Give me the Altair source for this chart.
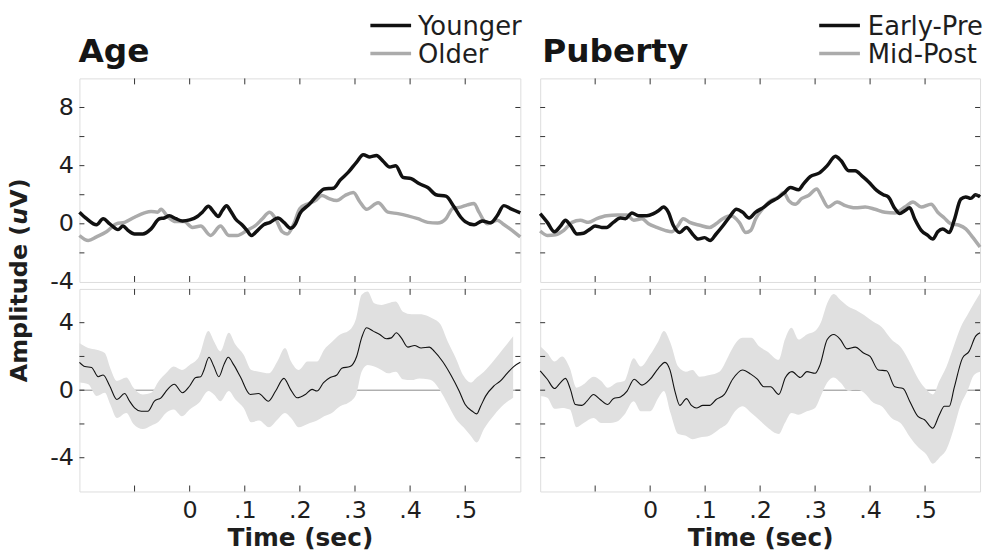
import altair as alt
import pandas as pd

# ---------------- axis values ----------------
x_tick_values = [-0.1, 0.0, 0.1, 0.2, 0.3, 0.4, 0.5]
x_label_values = [0.0, 0.1, 0.2, 0.3, 0.4, 0.5]
top_y_ticks = [-2, 0, 2, 4, 6, 8]
top_y_labels = [-4, 0, 4, 8]
bot_y_ticks = [-4, -2, 0, 2, 4]
bot_y_labels = [-4, 0, 4]
zero_line = [0]

panel_titles = ["Age", "Puberty"]
age_groups = ["Younger", "Older"]
puberty_groups = ["Early-Pre", "Mid-Post"]
x_title = "Time (sec)"
y_title_parts = ["Amplitude (", "u", "V)"]

# ---------------- Age: group ERPs (time in ms, amplitude in uV) ----------------
age_younger_t = [-200, -187, -169, -157, -145, -130, -121, -112, -100, -85,
                 -70, -55, -46, -37, -25, -13, 0, 14, 23, 34,
                 43, 52, 59, 67, 74, 83, 95, 104, 112, 122,
                 134, 146, 160, 171, 183, 192, 200, 216, 231, 244,
                 261, 273, 288, 303, 315, 327, 339, 351, 363, 374,
                 387, 402, 417, 432, 447, 465, 480, 492, 500, 516,
                 531, 546, 558, 570, 582, 600]
age_younger_v = [0.8, 0.35, -0.07, 0.35, 0, -0.4, -0.15, -0.45, -0.7, -0.7,
                 -0.35, 0.35, 0.4, 0.55, 0.35, 0.2, 0.27, 0.5, 0.8, 1.2,
                 0.85, 0.5, 0.9, 1.25, 0.9, 0.35, -0.07, -0.45, -0.8, -0.5,
                 -0.07, 0.1, 0.4, 0.1, -0.3, 0, 0.7, 1.3, 1.95, 2.4,
                 2.45, 3.0, 3.55, 4.25, 4.75, 4.6, 4.7, 4.3, 3.9, 4.0,
                 3.2, 3.1, 2.75, 2.5, 2.0, 1.9, 1.15, 0.45, 0.15, -0.07,
                 0.2, 0.07, 0.55, 1.25, 1.05, 0.75]
age_older_t = [-200, -184, -169, -151, -133, -118, -100, -82, -70, -58,
               -52, -40, -25, -10, 5, 20, 38, 56, 71, 86,
               104, 120, 132, 145, 156, 168, 177, 189, 200, 216,
               228, 240, 252, 267, 282, 297, 309, 321, 342, 360,
               378, 396, 414, 432, 450, 465, 477, 492, 504, 516,
               525, 540, 558, 570, 585, 600]
age_older_v = [-0.8, -1.15, -0.9, -0.55, 0, 0.1, 0.45, 0.75, 0.85, 0.8,
               1.0, 0.5, 0.15, 0.15, -0.25, -0.15, -0.8, -0.15, -0.8, -0.8,
               -0.45, -0.1, 0.35, 0.8, 0.35, -0.55, -0.7, 0, 1.05, 1.4,
               1.6, 1.95, 1.75, 1.6, 1.95, 2.15, 1.5, 1.0, 1.45, 0.8,
               0.7, 0.55, 0.35, 0.1, 0.05, 0.35, 1.05, 1.15, 1.3, 1.4,
               0.8, 0, 0.25, -0.05, -0.45, -0.9]

# ---------------- Puberty: group ERPs ----------------
pub_early_t = [-200, -187, -174, -163, -154, -145, -133, -121, -109, -100,
               -88, -79, -67, -54, -45, -33, -21, -6, 6, 15,
               24, 33, 42, 54, 66, 78, 87, 99, 109, 120,
               132, 144, 157, 168, 180, 192, 207, 219, 231, 243,
               255, 270, 279, 291, 308, 322, 337, 347, 361, 373,
               385, 397, 412, 424, 433, 445, 454, 463, 472, 481,
               493, 505, 514, 523, 532, 544, 553, 565, 574, 583,
               592, 600]
pub_early_v = [0.7, 0.1, -0.55, -0.15, 0.25, -0.1, -0.7, -0.65, -0.35, -0.15,
               -0.25, -0.25, 0.1, 0.4, 0.35, 0.75, 0.55, 0.55, 0.7, 0.9,
               1.15, 0.8, -0.1, -0.6, -0.25, -0.75, -1.05, -0.95, -1.15, -0.7,
               -0.15, 0.45, 1.0, 0.8, 0.4, 0.8, 1.15, 1.5, 1.75, 2.1,
               2.5, 2.35, 2.75, 3.25, 3.5, 4.0, 4.65, 4.35, 3.65, 3.65,
               3.3, 2.9, 2.3, 2.0, 1.85, 1.05, 0.7, 0.9, 1.1, 0.35,
               -0.45, -0.8, -1.05, -0.55, -0.35, -0.6, 0.25, 1.7, 1.85, 1.75,
               2.0, 1.85]
pub_mid_t = [-200, -187, -172, -157, -142, -127, -112, -97, -79, -60,
             -42, -30, -15, -3, 12, 27, 39, 51, 60, 72,
             90, 108, 120, 132, 147, 162, 174, 183, 192, 204,
             216, 234, 243, 252, 264, 276, 288, 303, 312, 324,
             340, 355, 373, 391, 409, 427, 445, 463, 478, 493,
             511, 523, 535, 547, 562, 574, 586, 600]
pub_mid_v = [-0.5, -0.8, -0.75, -0.45, 0.1, 0.25, 0.1, 0.35, 0.55, 0.6,
             0.6, 0.25, 0.35, 0, -0.25, -0.45, -0.55, -0.1, 0.35, 0.1,
             -0.1, -0.25, 0, 0.35, 0.55, 0.1, -0.6, -0.45, 0.35, 1.0,
             1.5, 1.85, 2.15, 1.6, 1.35, 1.75, 1.95, 2.4, 1.85, 1.15,
             1.5, 1.25, 1.1, 1.15, 1.0, 0.8, 0.75, 1.15, 1.5, 1.15,
             1.35, 0.8, 0.4, 0, -0.1, -0.35, -0.9, -1.6]

# ---------------- Age: difference wave and confidence band ----------------
age_diff_t = [-200, -190, -178, -166, -157, -145, -132, -118, -109, -100,
              -88, -76, -64, -52, -40, -28, -13, 0, 11, 20,
              26, 35, 44, 53, 62, 70, 80, 92, 110, 125,
              143, 156, 171, 183, 195, 210, 222, 231, 243, 255,
              267, 276, 291, 303, 312, 321, 333, 345, 357, 366,
              375, 384, 396, 408, 420, 435, 444, 459, 474, 489,
              500, 513, 521, 528, 537, 552, 564, 576, 588, 600]
age_diff_v = [1.65, 1.4, 1.35, 0.8, 0.9, 0.25, -0.55, -0.2, -0.65, -1.05,
              -1.25, -1.25, -0.65, -0.45, 0.05, 0.35, -0.15, 0.25, 0.75, 0.8,
              1.2, 1.95, 1.4, 0.8, 1.5, 1.95, 1.5, 0.8, -0.25, -0.2,
              -0.65, -0.05, 0.7, 0.05, -0.45, -0.25, 0.05, -0.05, 0.45, 0.75,
              0.9, 1.3, 1.4, 2.0, 3.1, 3.7, 3.5, 3.3, 3.05, 3.1,
              3.4, 3.1, 2.55, 2.65, 2.5, 2.55, 2.3, 1.7, 0.9, -0.05,
              -0.85, -1.25, -1.4, -0.95, -0.35, 0.25, 0.55, 1.0, 1.4, 1.65]
age_band_t = [-200, -184, -169, -154, -144, -132, -115, -102, -85, -70,
              -56, -43, -29, -14, 0, 17, 34, 44, 56, 71,
              83, 98, 112, 126, 144, 159, 173, 184, 198, 214,
              231, 244, 258, 273, 288, 302, 312, 323, 335, 348,
              360, 374, 387, 403, 417, 432, 441, 455, 468, 483,
              497, 510, 521, 534, 553, 570, 587]
age_band_hi = [2.8, 2.5, 2.4, 2.2, 1.3, 0.55, 0.75, 0.15, -0.25, -0.15,
               0.55, 1.0, 1.4, 1.2, 1.5, 2.0, 3.5, 2.9, 2.3, 3.4,
               2.7, 2.1, 1.2, 1.1, 1.0, 1.7, 2.5, 1.7, 1.2, 1.7,
               1.7, 2.4, 2.85, 3.3, 3.5, 4.25, 5.65, 5.85, 5.15, 5.05,
               5.15, 5.25, 4.65, 4.5, 4.5, 4.4, 4.25, 3.9, 2.9, 1.9,
               0.85, 0.45, 0.75, 1.1, 1.8, 2.5, 3.2]
age_band_lo = [0.45, 0.35, -0.35, -0.15, -0.85, -1.65, -1.35, -2.0, -2.3, -2.1,
               -1.85, -1.35, -1.15, -1.55, -1.15, -0.75, -0.05, -0.25, -0.65, -0.05,
               -0.55, -1.05, -1.9, -1.8, -2.2, -1.75, -1.35, -1.65, -2.2, -2.0,
               -1.8, -1.55, -1.35, -0.95, -0.75, -0.25, 1.1, 1.5, 1.4, 1.2,
               1.0, 1.1, 0.65, 0.6, 0.7, 0.65, 0.55, -0.05, -0.8, -1.7,
               -2.2, -2.7, -3.1, -2.3, -1.45, -0.85, -0.45]

# ---------------- Puberty: difference wave and confidence band ----------------
pub_diff_t = [-200, -187, -174, -163, -154, -145, -136, -124, -115, -103,
              -91, -77, -67, -54, -42, -29, -15, 0, 15, 27,
              36, 45, 54, 66, 75, 84, 96, 108, 120, 135,
              150, 168, 183, 195, 207, 219, 234, 246, 258, 273,
              285, 300, 309, 322, 334, 346, 358, 373, 388, 400,
              415, 430, 445, 460, 472, 487, 499, 514, 526, 535,
              544, 553, 568, 580, 592, 600]
pub_diff_v = [1.15, 0.65, 0.1, 0.45, 0.7, 0.05, -0.85, -0.9, -0.65, -0.25,
              -0.55, -0.85, -0.5, -0.4, -0.05, 0.65, 0.3, 0.65, 1.3, 1.65,
              1.2, -0.05, -0.9, -0.5, -0.9, -1.05, -0.9, -0.9, -0.55, -0.25,
              0.65, 1.2, 0.95, 0.65, 0.2, 0.2, -0.25, 0.75, 1.1, 0.75,
              1.1, 1.0, 1.5, 3.0, 3.3, 3.0, 2.45, 2.55, 2.2, 2.0,
              1.2, 1.15, 0.2, 0.1, -0.65, -1.55, -1.75, -2.25, -1.45, -0.95,
              -0.95, 0.15, 1.9, 2.3, 3.2, 3.4]
pub_band_t = [-200, -187, -174, -160, -146, -134, -121, -103, -89, -77,
              -60, -47, -30, -17, 0, 15, 25, 37, 51, 65,
              77, 90, 108, 126, 142, 150, 168, 184, 198, 213,
              234, 245, 257, 270, 285, 300, 311, 322, 334, 346,
              361, 374, 389, 406, 421, 439, 457, 473, 488, 502,
              514, 526, 539, 551, 565, 577, 589, 600]
pub_band_hi = [2.6, 2.2, 1.7, 2.0, 1.3, 0.15, 0.35, 0.8, 0.55, 0.15,
               0.45, 0.55, 1.9, 1.4, 2.1, 2.9, 3.5, 2.8, 1.4, 1.1,
               1.2, 0.8, 0.9, 1.1, 2.0, 2.5, 3.1, 3.1, 2.6, 2.3,
               1.8, 3.0, 3.7, 3.0, 3.3, 3.5, 4.05, 5.15, 5.7, 5.35,
               4.95, 4.75, 4.45, 4.05, 3.75, 3.0, 2.5, 1.6, 0.65, 0.05,
               -0.25, 0.55, 1.4, 2.5, 3.75, 4.45, 5.15, 5.75]
pub_band_lo = [-0.35, -0.45, -1.1, -1.05, -1.15, -2.2, -1.95, -1.65, -1.95, -1.95,
               -1.85, -1.45, -0.65, -1.25, -1.25, -0.45, -0.05, -1.35, -2.6, -2.7,
               -2.9, -2.8, -2.7, -2.3, -1.9, -1.45, -0.95, -1.35, -1.75, -2.2,
               -2.6, -1.95, -1.35, -1.45, -1.25, -1.05, -0.3, 0.45, 0.75, 0.45,
               -0.05, 0.05, -0.15, -0.75, -0.95, -1.65, -2.0, -2.8, -3.4, -3.8,
               -4.35, -4.0, -3.5, -2.4, -0.85, -0.05, 0.9, 1.1]

# ---------------- styling ----------------
FONT = "DejaVu Sans"
TXT = "#1e1e1e"
TICK = "#333333"
FRAME = "#9a9a9a"
DARK = "#111111"
LIGHT = "#ababab"
BAND = "#e0e0e0"
ZERO = "#8a8a8a"

W = [444, 443]
H_TOP, H_BOT = 205, 204
XT_LEN, YT_LEN = 6, 5
LEG_FS = 26

xscale = alt.Scale(domain=[-0.2, 0.6], nice=False, zero=False)
top_scale = alt.Scale(domain=[-4, 10], nice=False, zero=False)
bot_scale = alt.Scale(domain=[-6, 6], nice=False, zero=False)


def sec(ms):
    return [m / 1000 for m in ms]


def x_enc(show):
    if show:
        ax = alt.Axis(values=x_label_values,
                      labelExpr="datum.value == 0 ? '0' : replace(format(datum.value, '.1f'), '0.', '.')",
                      ticks=False, domain=False, grid=False,
                      labelFont=FONT, labelFontSize=24, labelColor=TXT, labelPadding=7,
                      labelFlush=False, labelOverlap=False,
                      title=x_title, titleFont=FONT, titleFontSize=25, titleFontWeight="bold",
                      titleColor=TXT, titlePadding=3)
        return alt.X("time:Q", scale=xscale, axis=ax)
    return alt.X("time:Q", scale=xscale, axis=None)


def y_enc(scale, labels, show):
    if show:
        ax = alt.Axis(values=labels,
                      labelExpr="datum.value < 0 ? '-' + format(-datum.value, 'd') : format(datum.value, 'd')",
                      ticks=False, domain=False, grid=False,
                      labelFont=FONT, labelFontSize=24, labelColor=TXT, labelPadding=6,
                      labelFlush=False, labelOverlap=False, title=None)
        return alt.Y("value:Q", scale=scale, axis=ax)
    return alt.Y("value:Q", scale=scale, axis=None)


def tick_layers(X, Y, w, h, yticks):
    xt = pd.DataFrame({"time": x_tick_values})
    yt = pd.DataFrame({"value": yticks})
    st = dict(color=TICK, strokeWidth=1)
    return [
        alt.Chart(xt).mark_rule(**st).encode(x=X, y=alt.value(0), y2=alt.value(XT_LEN)),
        alt.Chart(xt).mark_rule(**st).encode(x=X, y=alt.value(h), y2=alt.value(h - XT_LEN)),
        alt.Chart(yt).mark_rule(**st).encode(y=Y, x=alt.value(0), x2=alt.value(YT_LEN)),
        alt.Chart(yt).mark_rule(**st).encode(y=Y, x=alt.value(w), x2=alt.value(w - YT_LEN)),
    ]


def text_layer(s, x, y, size, weight="normal", style="normal", angle=None,
               align="left", baseline="alphabetic", color=TXT):
    mk = dict(font=FONT, fontSize=size, fontWeight=weight, fontStyle=style,
              align=align, baseline=baseline, color=color)
    if angle is not None:
        mk["angle"] = angle
    return alt.Chart(pd.DataFrame({"label": [s]})).mark_text(**mk).encode(
        x=alt.value(x), y=alt.value(y), text="label:N")


def legend_line(name, x1, x2, y, color):
    return alt.Chart(pd.DataFrame({"label": [name]})).mark_rule(
        color=color, strokeWidth=3.5).encode(x=alt.value(x1), x2=alt.value(x2), y=alt.value(y))


def top_panel(col, title, groups, dt, dv, lt, lv, leg_x1, leg_x2, leg_tx, title_x):
    w, h = W[col], H_TOP
    X = x_enc(False)
    Y = y_enc(top_scale, top_y_labels, col == 0)
    light = pd.DataFrame({"time": sec(lt), "value": lv})
    dark = pd.DataFrame({"time": sec(dt), "value": dv})
    layers = [
        alt.Chart(light).mark_line(color=LIGHT, strokeWidth=3.5, interpolate="monotone").encode(x=X, y=Y),
        alt.Chart(dark).mark_line(color=DARK, strokeWidth=3.5, interpolate="monotone").encode(x=X, y=Y),
    ]
    layers += tick_layers(X, Y, w, h, top_y_ticks)
    layers.append(text_layer(title, title_x, -17, 33, weight="bold", color="#151515"))
    ly1, ly2 = -53.3, -25.0
    layers.append(legend_line(groups[0], leg_x1, leg_x2, ly1, DARK))
    layers.append(legend_line(groups[1], leg_x1, leg_x2, ly2, LIGHT))
    layers.append(text_layer(groups[0], leg_tx, ly1 + 9.4, LEG_FS))
    layers.append(text_layer(groups[1], leg_tx, ly2 + 9.4, LEG_FS))
    if col == 0:
        xb = -53
        y0 = 306.0
        split = y0 - 158.6
        layers.append(text_layer(y_title_parts[0], xb, split, 24, weight="bold", angle=270, align="right"))
        layers.append(text_layer(y_title_parts[1], xb, split, 24, weight="bold", style="italic", angle=270, align="left"))
        layers.append(text_layer(y_title_parts[2], xb, split - 17.1, 24, weight="bold", angle=270, align="left"))
    return alt.layer(*layers).properties(width=w, height=h)


def bottom_panel(col, t, v, bt, bhi, blo):
    w, h = W[col], H_BOT
    X = x_enc(True)
    Y = y_enc(bot_scale, bot_y_labels, col == 0)
    band = pd.DataFrame({"time": sec(bt), "value": bhi, "value2": blo})
    diff = pd.DataFrame({"time": sec(t), "value": v})
    zero = pd.DataFrame({"value": zero_line})
    layers = [
        alt.Chart(zero).mark_rule(color=ZERO, strokeWidth=1).encode(y=Y),
        alt.Chart(band).mark_area(color=BAND, opacity=1, interpolate="monotone").encode(
            x=X, y=Y, y2=alt.Y2("value2:Q")),
        alt.Chart(diff).mark_line(color=DARK, strokeWidth=1.1, interpolate="monotone").encode(x=X, y=Y),
    ]
    layers += tick_layers(X, Y, w, h, bot_y_ticks)
    return alt.layer(*layers).properties(width=w, height=h)


tl = top_panel(0, panel_titles[0], age_groups, age_younger_t, age_younger_v,
               age_older_t, age_older_v, 293, 334, 341, -1)
tr = top_panel(1, panel_titles[1], puberty_groups, pub_early_t, pub_early_v,
               pub_mid_t, pub_mid_v, 281, 322, 330, 2)
bl = bottom_panel(0, age_diff_t, age_diff_v, age_band_t, age_band_hi, age_band_lo)
br = bottom_panel(1, pub_diff_t, pub_diff_v, pub_band_t, pub_band_hi, pub_band_lo)

chart = alt.concat(tl, tr, bl, br, columns=2,
                   spacing={"row": 7, "column": 20}, bounds="flush").properties(
    padding={"left": 7, "top": 11, "right": 1, "bottom": 2},
    background="white",
).configure_view(stroke=FRAME, strokeWidth=1).configure(font=FONT)

chart.save("out.html", embed_options={"renderer": "svg", "actions": False})
